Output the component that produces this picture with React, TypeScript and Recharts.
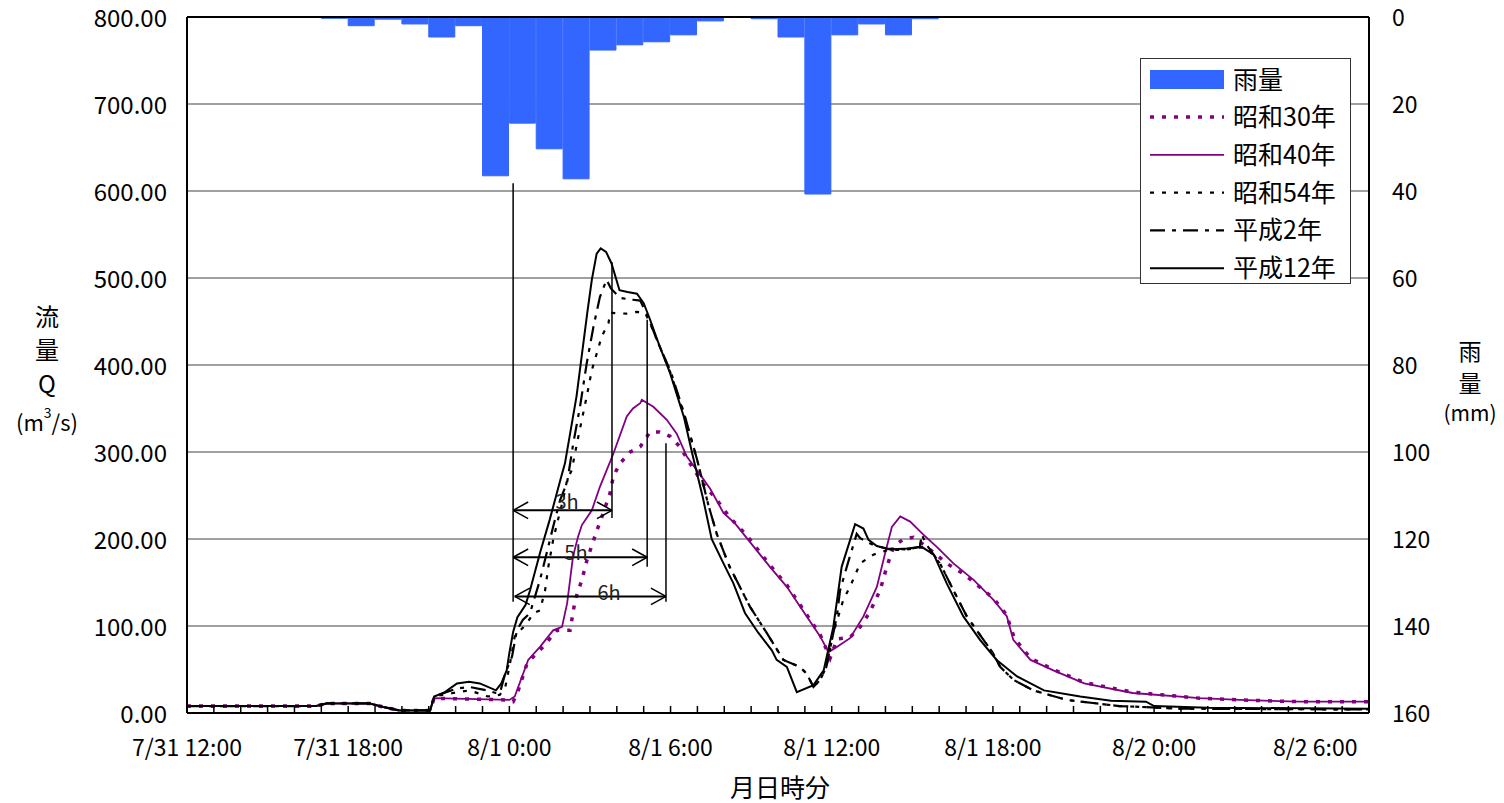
import React from 'react';
import {
  ComposedChart, Bar, Line, XAxis, YAxis, CartesianGrid, ReferenceLine, ReferenceDot, Legend, Customized,
} from 'recharts';

const FONT = "'Noto Sans CJK JP', 'Noto Sans', sans-serif";

// ---- tick labels / categories ----
const timeLabels = ['7/31 12:00', '7/31 18:00', '8/1 0:00', '8/1 6:00', '8/1 12:00', '8/1 18:00', '8/2 0:00', '8/2 6:00'];
const hourTicks = Array.from({ length: 45 }, (_, i) => i);
const coarseTicks = [0, 4, 8, 12, 16, 20, 24, 28, 32, 36, 40, 44];
const flowTicks = [0, 100, 200, 300, 400, 500, 600, 700, 800];
const rainTicks = [0, 20, 40, 60, 80, 100, 120, 140, 160];

// ---- hourly rainfall (mm), hour k = interval [k, k+1] from 7/31 12:00 ----
const rainfall = [
  0, 0, 0, 0, 0, 0.3, 2.0, 0.5, 1.6, 4.6, 2.0, 36.5, 24.4, 30.3, 37.2, 7.6, 6.4, 5.7, 4.1, 0.9,
  0, 0.4, 4.6, 40.7, 4.1, 1.6, 4.1, 0.4, 0, 0, 0, 0, 0, 0, 0, 0, 0, 0, 0, 0, 0, 0, 0, 0,
];

// ---- discharge series [hours from 7/31 12:00, m3/s] ----
const earlyFlow: [number, number][] = [[0, 8], [4.8, 8], [5.2, 11], [6.8, 11], [7.3, 7], [7.9, 3], [9.05, 3]];

const flowS30: [number, number][] = [
  ...earlyFlow, [9.2, 17], [11.9, 15], [12.14, 13], [12.3, 23], [12.66, 57], [12.9, 65], [13.25, 76], [13.77, 95],
  [14.26, 95], [14.45, 130], [14.7, 153], [14.89, 176], [15.26, 210], [15.45, 226], [15.75, 253], [15.87, 272],
  [16.12, 287], [16.5, 300], [16.87, 306], [17.24, 323], [17.6, 323], [17.98, 318], [18.35, 306], [18.72, 287],
  [19.2, 264], [19.72, 245], [20.2, 225], [20.84, 204], [21.7, 170], [22.33, 147], [23.07, 113], [23.57, 90],
  [23.94, 63], [24.2, 85], [24.68, 87], [25.06, 99], [25.4, 115], [25.8, 141], [26.05, 168], [26.3, 191],
  [26.67, 200], [27.04, 202], [27.54, 191], [28.28, 172], [28.9, 160], [29.5, 145], [30.02, 132], [30.5, 113],
  [30.8, 86], [31.4, 63], [32.25, 50], [33.4, 35], [35.2, 24], [37.7, 17], [39.2, 15], [41.4, 13], [44, 13],
];

const flowS40: [number, number][] = [
  ...earlyFlow, [9.2, 17], [12.0, 15], [12.2, 19], [12.7, 61], [13.14, 76], [13.63, 95], [13.96, 99], [14.15, 126],
  [14.26, 153], [14.37, 180], [14.56, 203], [14.7, 216], [15.07, 233], [15.37, 260], [15.87, 298], [16.37, 341],
  [16.6, 350], [16.87, 356], [16.93, 360], [17.36, 352], [17.86, 337], [18.23, 321], [18.6, 295], [19.1, 274],
  [19.47, 258], [19.97, 230], [20.4, 218], [20.84, 201], [21.7, 168], [22.33, 145], [23.07, 111], [23.57, 88],
  [23.88, 70], [24.19, 76], [24.68, 86], [25.18, 111], [25.68, 145], [25.99, 184], [26.24, 214], [26.55, 226],
  [26.92, 220], [27.41, 205], [27.91, 191], [28.53, 172], [29.28, 153], [30.02, 130], [30.52, 111], [30.76, 84],
  [31.4, 61], [32.25, 49], [33.4, 34], [35.2, 23], [37.7, 17], [39.2, 15], [41.4, 13], [44, 13],
];

const flowS54: [number, number][] = [
  ...earlyFlow, [9.2, 19], [9.9, 23], [10.5, 26], [11.2, 19], [11.65, 21], [11.85, 30], [12.0, 53], [12.2, 88],
  [12.65, 103], [12.9, 115], [13.14, 118], [13.33, 141], [13.45, 168], [13.63, 199], [13.81, 222], [14.0, 245],
  [14.15, 268], [14.32, 279], [14.57, 318], [14.88, 364], [15.07, 394], [15.25, 413], [15.44, 433], [15.69, 448],
  [15.75, 460], [16.37, 459], [16.74, 461], [17.05, 460], [17.24, 448], [17.6, 421], [18.0, 391], [18.5, 343],
  [19.0, 290], [19.4, 240], [19.72, 206], [20.2, 168], [20.96, 122], [21.58, 92], [22.2, 61], [22.82, 53],
  [23.07, 45], [23.32, 30], [23.57, 38], [23.8, 53], [24.06, 92], [24.43, 130], [24.68, 145], [25.06, 172],
  [25.55, 182], [26.05, 187], [26.8, 188], [27.28, 190], [27.54, 190], [28.03, 172], [28.53, 141], [29.03, 111],
  [29.65, 84], [30.0, 69], [30.27, 53], [30.77, 38], [31.5, 26], [32.75, 15], [34.7, 8], [37.0, 5], [44, 4],
];

const flowH2: [number, number][] = [
  ...earlyFlow, [9.2, 19], [10.04, 28], [10.5, 30], [11.16, 26], [11.5, 23], [11.65, 23], [11.85, 46], [12.1, 65],
  [12.28, 95], [12.5, 107], [12.77, 115], [13.14, 153], [13.39, 184], [13.63, 214], [13.89, 245], [14.15, 265],
  [14.38, 310], [14.63, 352], [14.88, 402], [15.13, 444], [15.37, 478], [15.62, 498], [15.78, 488], [16.12, 477],
  [16.6, 475], [16.87, 474], [17.17, 455], [17.5, 428], [18.0, 393], [18.5, 345], [19.0, 290], [19.4, 240],
  [19.72, 206], [20.2, 168], [20.96, 122], [21.58, 92], [22.2, 61], [22.82, 53], [23.07, 45], [23.32, 30],
  [23.57, 38], [23.8, 53], [24.06, 92], [24.19, 111], [24.31, 141], [24.56, 168], [24.93, 206], [25.06, 201],
  [25.55, 193], [26.05, 189], [26.8, 188], [27.28, 191], [27.35, 205], [27.54, 193], [28.03, 172], [28.53, 141],
  [29.03, 111], [29.65, 84], [30.0, 69], [30.27, 53], [30.77, 38], [31.5, 26], [32.75, 15], [34.7, 8], [37.0, 5], [44, 4],
];

const flowH12: [number, number][] = [
  ...earlyFlow, [9.2, 19], [9.6, 24], [10.05, 34], [10.5, 36], [10.9, 34], [11.5, 26], [11.7, 34], [11.9, 49],
  [12.0, 69], [12.14, 93], [12.3, 110], [12.6, 124], [12.77, 141], [13.14, 184], [13.5, 222], [13.9, 268],
  [14.07, 287], [14.5, 364], [14.9, 460], [15.07, 498], [15.25, 528], [15.4, 534], [15.6, 530], [15.8, 517],
  [16.1, 486], [16.4, 484], [16.75, 482], [17.0, 471], [17.24, 452], [17.6, 421], [17.98, 391], [18.5, 340],
  [18.84, 294], [19.2, 248], [19.53, 200], [19.97, 172], [20.34, 149], [20.77, 115], [21.27, 92], [21.77, 72],
  [21.95, 61], [22.33, 53], [22.7, 24], [23.32, 32], [23.7, 49], [24.06, 99], [24.37, 168], [24.87, 217],
  [25.18, 212], [25.37, 199], [25.68, 192], [26.17, 188], [26.8, 189], [27.35, 191], [27.8, 182], [28.28, 149],
  [28.9, 111], [29.52, 84], [30.14, 61], [30.9, 42], [31.9, 26], [33.25, 19], [34.4, 14], [35.7, 13], [36.0, 8],
  [38.0, 6], [44, 5],
];

// ---- annotation (lag between rainfall peak and discharge peaks), data coordinates ----
const peakLines = [
  { x: 12.14, from: 609, to: 128 },
  { x: 15.82, from: 518, to: 224 },
  { x: 17.13, from: 452, to: 168 },
  { x: 17.83, from: 310, to: 128 },
];
const lagArrows = [
  { x1: 12.14, x2: 15.82, y: 233, label: '3h', lx: 14.15, ly: 243 },
  { x1: 12.14, x2: 17.13, y: 179, label: '5h', lx: 14.48, ly: 184 },
  { x1: 12.2, x2: 17.83, y: 134, label: '6h', lx: 15.71, ly: 138 },
];
const HEAD_DX = 0.56;
const HEAD_DY = 9.5;

const PURPLE = '#800080';
const BLUE = '#3366FF';

const seriesDefs = [
  { key: 'S30', name: '昭和30年', data: flowS30, color: PURPLE, width: 3.5, dash: '4 8' },
  { key: 'S40', name: '昭和40年', data: flowS40, color: PURPLE, width: 1.8, dash: undefined },
  { key: 'S54', name: '昭和54年', data: flowS54, color: '#000', width: 2.2, dash: '4 8' },
  { key: 'H2', name: '平成2年', data: flowH2, color: '#000', width: 2.2, dash: '15 7 4 7' },
  { key: 'H12', name: '平成12年', data: flowH12, color: '#000', width: 2, dash: undefined },
];

const rainData = rainfall.map((r, k) => ({ t: k + 0.5, rain: r }));
const toRows = (pts: [number, number][]) => pts.map(([t, q]) => ({ t, q }));

const renderXTick = (props: any) => {
  const { x, y, payload } = props;
  const h = payload.value as number;
  const label = h % 6 === 0 ? timeLabels[h / 6] : null;
  return (
    <g>
      {h > 0 && h < 44 && <line x1={x} y1={y} x2={x} y2={y - 7} stroke="#000" strokeWidth={1.5} />}
      {label && (
        <text x={x} y={y + 43} textAnchor="middle" fontSize={23} fontFamily={FONT} fill="#000">
          {label}
        </text>
      )}
    </g>
  );
};

const renderLeftTick = (props: any) => {
  const { x, y, payload } = props;
  return (
    <text x={x - 20} y={y + 1} dy="0.36em" textAnchor="end" fontSize={24} fontFamily={FONT} fill="#000">
      {Number(payload.value).toFixed(2)}
    </text>
  );
};

const renderRightTick = (props: any) => {
  const { x, y, payload } = props;
  return (
    <text x={x + 23} y={y + 1} dy="0.36em" textAnchor="start" fontSize={23} fontFamily={FONT} fill="#000">
      {payload.value}
    </text>
  );
};

const LegendBox = () => (
  <svg width={212} height={227} style={{ display: 'block' }}>
    <rect x={0.5} y={0.5} width={210} height={225} fill="#fff" stroke="#333" strokeWidth={1} />
    <rect x={10} y={12} width={74} height={19} fill={BLUE} />
    <text x={93} y={22} dy="0.36em" fontSize={25} fontFamily={FONT} fill="#000">雨量</text>
    {seriesDefs.map((s, i) => {
      const cy = 59 + i * 37.8;
      return (
        <g key={s.key}>
          <line x1={10} x2={84} y1={cy} y2={cy} stroke={s.color} strokeWidth={s.width} strokeDasharray={s.dash} />
          <text x={93} y={cy} dy="0.36em" fontSize={25} fontFamily={FONT} fill="#000">{s.name}</text>
        </g>
      );
    })}
  </svg>
);

const AxisTitles = () => (
  <g fontFamily={FONT} fill="#000">
    <text x={47} y={315} fontSize={24} textAnchor="middle" dominantBaseline="central">流</text>
    <text x={47} y={348} fontSize={24} textAnchor="middle" dominantBaseline="central">量</text>
    <text x={47} y={382} fontSize={24} textAnchor="middle" dominantBaseline="central">Q</text>
    <text x={47} y={421} fontSize={22} textAnchor="middle" dominantBaseline="central">
      (m<tspan fontSize={14} dy={-9}>3</tspan><tspan dy={9}>/s)</tspan>
    </text>
    <text x={1470} y={350} fontSize={23} textAnchor="middle" dominantBaseline="central">雨</text>
    <text x={1470} y={382} fontSize={23} textAnchor="middle" dominantBaseline="central">量</text>
    <text x={1470} y={412} fontSize={21} textAnchor="middle" dominantBaseline="central">(mm)</text>
    <text x={780} y={786} fontSize={25} textAnchor="middle" dominantBaseline="central">月日時分</text>
  </g>
);

export default function App() {
  return (
    <div style={{ position: 'absolute', left: 0, top: 0, width: 1504, height: 803, background: '#fff' }}>
      <ComposedChart
        width={1504}
        height={803}
        data={rainData}
        margin={{ top: 17, right: 75, bottom: 30, left: 87 }}
      >
        <CartesianGrid yAxisId="flow" vertical={false} stroke="#808080" strokeWidth={1.5} />
        <XAxis
          dataKey="t"
          type="number"
          domain={[0, 44]}
          ticks={hourTicks}
          interval={0}
          allowDataOverflow
          tick={renderXTick}
          tickLine={false}
          tickSize={0}
          tickMargin={0}
          axisLine={{ stroke: '#000', strokeWidth: 2 }}
          height={60}
        />
        <XAxis
          xAxisId="rainX"
          dataKey="t"
          type="number"
          domain={[0, 44]}
          ticks={coarseTicks}
          allowDataOverflow
          hide
        />
        <YAxis
          yAxisId="flow"
          type="number"
          domain={[0, 800]}
          ticks={flowTicks}
          interval={0}
          allowDataOverflow
          tick={renderLeftTick}
          tickLine={false}
          tickSize={0}
          tickMargin={0}
          axisLine={{ stroke: '#000', strokeWidth: 2 }}
          width={100}
        />
        <YAxis
          yAxisId="rain"
          orientation="right"
          type="number"
          reversed
          domain={[0, 160]}
          ticks={rainTicks}
          interval={0}
          allowDataOverflow
          tick={renderRightTick}
          tickLine={false}
          tickSize={0}
          tickMargin={0}
          axisLine={{ stroke: '#000', strokeWidth: 2 }}
          width={60}
        />
        <Bar
          xAxisId="rainX"
          yAxisId="rain"
          dataKey="rain"
          name="雨量"
          fill={BLUE}
          stroke={BLUE}
          strokeWidth={1}
          barSize={26}
          isAnimationActive={false}
        />
        {seriesDefs.map((s) => (
          <Line
            key={s.key}
            yAxisId="flow"
            data={toRows(s.data)}
            dataKey="q"
            name={s.name}
            type="linear"
            stroke={s.color}
            strokeWidth={s.width}
            strokeDasharray={s.dash}
            dot={false}
            activeDot={false}
            isAnimationActive={false}
          />
        ))}
        <ReferenceLine yAxisId="flow" y={800} stroke="#000" strokeWidth={2} />
        {peakLines.map((p, i) => (
          <ReferenceLine
            key={`pl${i}`}
            yAxisId="flow"
            segment={[{ x: p.x, y: p.from }, { x: p.x, y: p.to }]}
            stroke="#000"
            strokeWidth={1.5}
          />
        ))}
        {lagArrows.map((a, i) => (
          <React.Fragment key={`ar${i}`}>
            <ReferenceLine yAxisId="flow" segment={[{ x: a.x1, y: a.y }, { x: a.x2, y: a.y }]} stroke="#000" strokeWidth={2} />
            <ReferenceLine yAxisId="flow" segment={[{ x: a.x1, y: a.y }, { x: a.x1 + HEAD_DX, y: a.y + HEAD_DY }]} stroke="#000" strokeWidth={1.5} />
            <ReferenceLine yAxisId="flow" segment={[{ x: a.x1, y: a.y }, { x: a.x1 + HEAD_DX, y: a.y - HEAD_DY }]} stroke="#000" strokeWidth={1.5} />
            <ReferenceLine yAxisId="flow" segment={[{ x: a.x2, y: a.y }, { x: a.x2 - HEAD_DX, y: a.y + HEAD_DY }]} stroke="#000" strokeWidth={1.5} />
            <ReferenceLine yAxisId="flow" segment={[{ x: a.x2, y: a.y }, { x: a.x2 - HEAD_DX, y: a.y - HEAD_DY }]} stroke="#000" strokeWidth={1.5} />
            <ReferenceDot
              yAxisId="flow"
              x={a.lx}
              y={a.ly}
              r={0}
              fill="none"
              stroke="none"
              label={{ value: a.label, position: 'center', fontSize: 20, fill: '#222', fontFamily: FONT }}
            />
          </React.Fragment>
        ))}
        <Legend
          content={() => <LegendBox />}
          layout="horizontal"
          verticalAlign="middle"
          align="center"
          wrapperStyle={{ position: 'absolute', left: 1140, top: 58, width: 212, height: 227 }}
        />
        <Customized component={AxisTitles} />
      </ComposedChart>
    </div>
  );
}
